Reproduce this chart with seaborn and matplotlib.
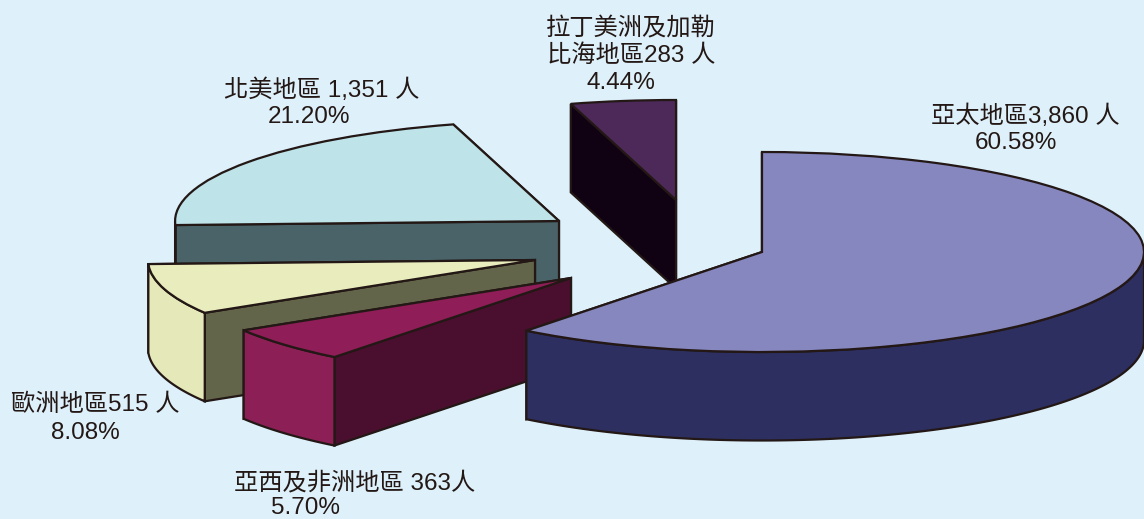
import numpy as np
import seaborn as sns
import matplotlib.pyplot as plt

# 各地區人數，順時針由 12 點方向開始
regions = ['亞太地區', '亞西及非洲地區', '歐洲地區', '北美地區', '拉丁美洲及加勒比海地區']
counts = [3860, 363, 515, 1351, 283]

top_colors = ['#8787BF', '#8F1D57', '#E9EDBD', '#BEE3E8', '#4D2959']
rim_colors = ['#2C2F5F', '#8C1F56', '#E5E8B8', '#496368', '#100212']
face_colors = ['#2C2F5F', '#4A0F2E', '#63654A', '#496368', '#100212']

# 每行標籤分開放，位置是圖上的像素
label_lines = [
    ['亞太地區3,860 人', '60.58%'],
    ['亞西及非洲地區 363人', '5.70%'],
    ['歐洲地區515 人', '8.08%'],
    ['北美地區 1,351 人', '21.20%'],
    ['拉丁美洲及加勒', '比海地區283 人', '4.44%'],
]
label_pos = [
    [(1025, 116), (1016, 143)],
    [(355, 483), (306, 508)],
    [(95, 405), (85, 433)],
    [(322, 90), (309, 117)],
    [(631, 29), (631, 56), (621, 83)],
]

W, H = 1144, 519
RX, RY = 382, 100      # 橢圓半徑（像素）
CX, CY = 762, 252      # 亞太地區圓心
DEPTH = 0.885          # 厚度，資料單位
EDGE = '#231815'
BG = '#DEF1FB'
LW = 1.6

# 分離後各扇形的圓心（像素）和半徑比例
centers_px = [(762, 252), (571, 278), (535, 260), (559, 221), (676, 200)]
radii = [1.0, 1.004, 1.013, 1.005, 1.0]
draw_order = [4, 3, 2, 1, 0]

sns.set_theme(style='white')
plt.rcParams['font.family'] = ['Liberation Sans', 'Noto Sans CJK TC']

fig, ax = plt.subplots(figsize=(W / 100, H / 100), dpi=100, facecolor=BG)
ax.set_position([0, 0, 1, 1])

wedges, _ = ax.pie(counts, startangle=90, counterclock=False, colors=top_colors,
                   wedgeprops={'edgecolor': EDGE, 'linewidth': LW, 'joinstyle': 'miter'})

# 單位圓經座標軸比例壓成橢圓
ax.set_aspect('auto')
ax.set_xlim(-CX / RX, (W - CX) / RX)
ax.set_ylim((CY - H) / RY, CY / RY)
ax.set_axis_off()

for i in draw_order:
    w = wedges[i]
    r = radii[i]
    cx = (centers_px[i][0] - CX) / RX
    cy = (CY - centers_px[i][1]) / RY
    w.set_center((cx, cy))
    w.set_radius(r)
    z = 10 + draw_order.index(i) * 3
    w.set_zorder(z + 2)

    # 兩個切面，背面的會被頂面和外圈蓋住
    for ang in (w.theta1, w.theta2):
        px = cx + r * np.cos(np.radians(ang))
        py = cy + r * np.sin(np.radians(ang))
        ax.fill([cx, px, px, cx], [cy, py, py - DEPTH, cy - DEPTH],
                facecolor=face_colors[i], edgecolor=EDGE, linewidth=LW,
                joinstyle='miter', zorder=z)

    # 外圈只畫朝前的部分
    t = np.radians(np.linspace(w.theta1, w.theta2, 300))
    t = t[np.sin(t) <= 0]
    if len(t) > 1:
        xs = cx + r * np.cos(t)
        ys = cy + r * np.sin(t)
        ax.fill(np.r_[xs, xs[::-1]], np.r_[ys, ys[::-1] - DEPTH],
                facecolor=rim_colors[i], edgecolor=EDGE, linewidth=LW,
                joinstyle='miter', zorder=z + 1)

for lines, positions in zip(label_lines, label_pos):
    for line, (x, y) in zip(lines, positions):
        fig.text(x / W, 1 - y / H, line, ha='center', va='center',
                 fontsize=17.5, color=EDGE)

fig.savefig('out.png', dpi=100, facecolor=BG)
